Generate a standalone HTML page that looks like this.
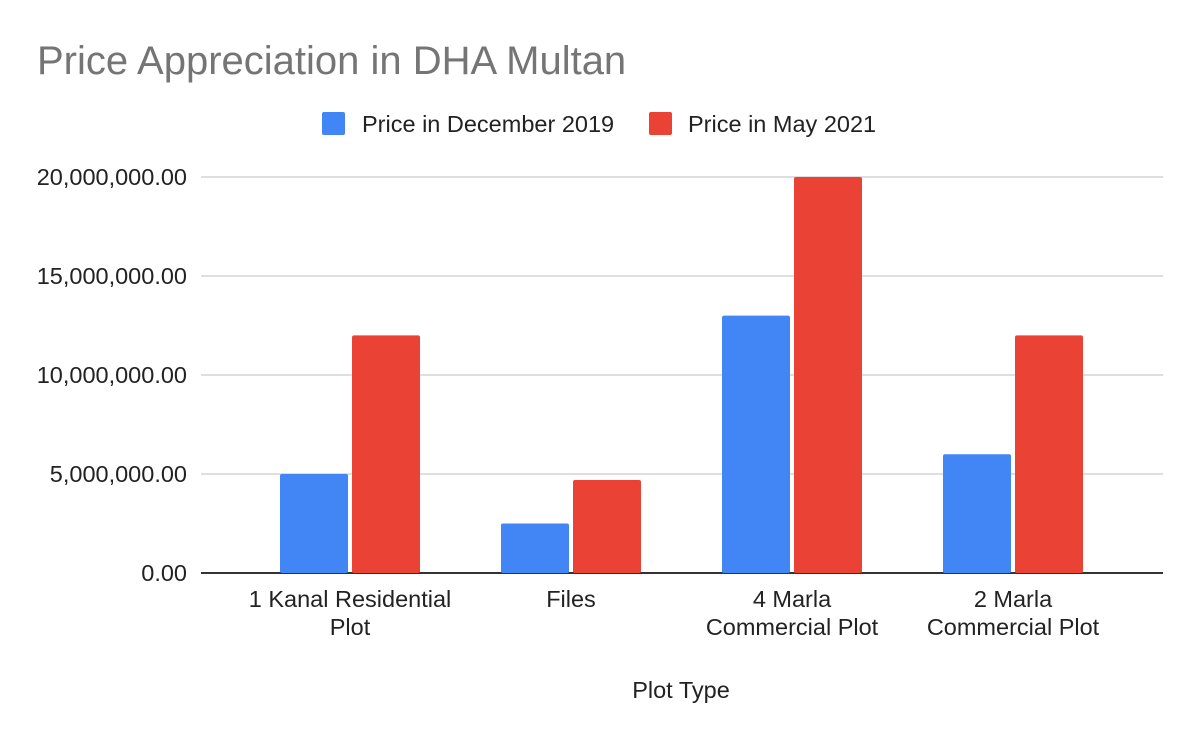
<!DOCTYPE html>
<html><head><meta charset="utf-8"><style>
body{margin:0;background:#fff;width:1200px;height:742px;overflow:hidden;font-family:"Liberation Sans",Arial,sans-serif}
</style></head><body>
<svg width="1200" height="742" font-family="Liberation Sans, Arial, sans-serif">
<text x="37" y="74" font-size="40" fill="#757575">Price Appreciation in DHA Multan</text>
<g>
<rect x="322" y="112" width="23" height="23" rx="2" fill="#4285f4"/>
<text x="362" y="132" font-size="23.5" fill="#222">Price in December 2019</text>
<rect x="649" y="112" width="23" height="23" rx="2" fill="#ea4335"/>
<text x="688" y="132" font-size="23.5" fill="#222">Price in May 2021</text>
</g>
<g id="grid"></g><g id="bars"></g><g id="xl"></g>
<text x="681" y="698" font-size="23.5" fill="#222" text-anchor="middle">Plot Type</text>
</svg>
<script>
const categories=[["1 Kanal Residential","Plot"],["Files"],["4 Marla","Commercial Plot"],["2 Marla","Commercial Plot"]];
const dec2019=[5000000,2500000,13000000,6000000];
const may2021=[12000000,4700000,20000000,12000000];
const ticks=[0,5000000,10000000,15000000,20000000];
const tickLabels=["0.00","5,000,000.00","10,000,000.00","15,000,000.00","20,000,000.00"];
const NS="http://www.w3.org/2000/svg";
const y=v=>573-v*(396/20000000);
const xc=i=>350+i*221;
function mk(t,a,p){const e=document.createElementNS(NS,t);for(const k in a)e.setAttribute(k,a[k]);p.appendChild(e);return e;}
const g=document.getElementById('grid'),b=document.getElementById('bars'),xl=document.getElementById('xl');
ticks.forEach((t,i)=>{
 const l=mk('line',{x1:201,x2:1163,y1:y(t),y2:y(t),stroke:i==0?'#333':'#ccc','stroke-width':i==0?2:1.3},g);
 
 
 const tx=mk('text',{x:187,y:y(t)+8,'font-size':23.5,fill:'#222','text-anchor':'end'},g);
 tx.textContent=tickLabels[i];
 
 
});
categories.forEach((c,i)=>{
 const r1=mk('rect',{x:xc(i)-70,y:y(dec2019[i]),width:68,height:573-y(dec2019[i]),rx:2,fill:'#4285f4'},b);
 
 
 const r2=mk('rect',{x:xc(i)+2,y:y(may2021[i]),width:68,height:573-y(may2021[i]),rx:2,fill:'#ea4335'},b);
 
 
 c.forEach((s,j)=>{
  const t=mk('text',{x:xc(i),y:607+j*28,'font-size':23.5,fill:'#222','text-anchor':'middle'},xl);
  t.textContent=s;
  
  
 });
});
</script>
</body></html>
